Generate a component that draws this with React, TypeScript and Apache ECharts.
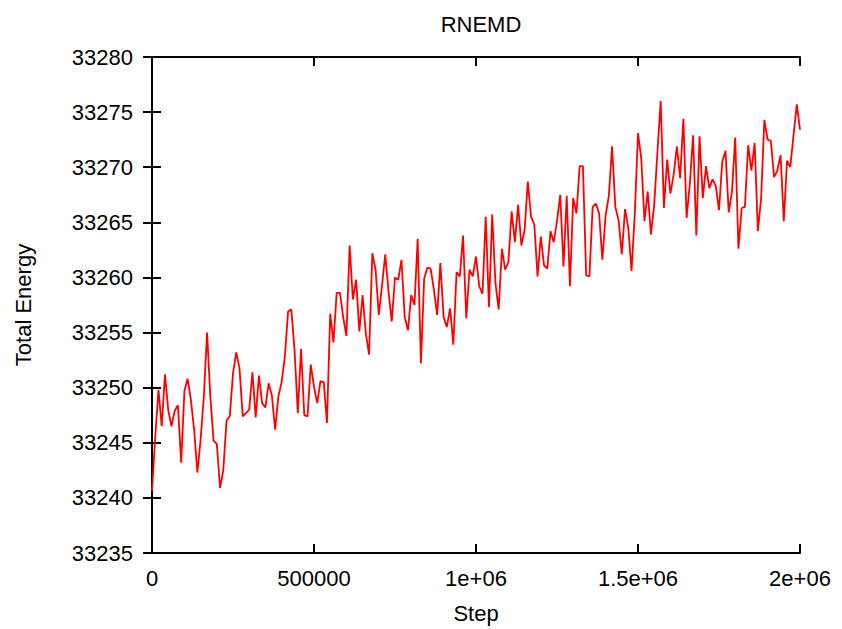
import React, { useEffect, useRef } from "react";
import * as echarts from "echarts";

const TITLE = "RNEMD";
const X_NAME = "Step";
const Y_NAME = "Total Energy";
const STEP_SIZE = 10000;
const X_TICK_LABELS: Record<number, string> = {
  0: "0",
  500000: "500000",
  1000000: "1e+06",
  1500000: "1.5e+06",
  2000000: "2e+06",
};

const ENERGY = [
  33240.6, 33245.5, 33249.8, 33246.5, 33251.2, 33248.0, 33246.5, 33247.9, 33248.4, 33243.2,
  33249.7, 33250.8, 33248.9, 33246.2, 33242.3, 33245.3, 33249.2, 33255.0, 33249.2, 33245.2,
  33244.9, 33240.9, 33242.5, 33247.0, 33247.4, 33251.3, 33253.2, 33251.8, 33247.4, 33247.7,
  33248.0, 33251.4, 33247.3, 33251.1, 33248.6, 33248.2, 33250.4, 33249.3, 33246.2, 33249.2,
  33250.5, 33252.8, 33256.9, 33257.1, 33253.4, 33247.7, 33253.5, 33247.5, 33247.4, 33252.1,
  33250.1, 33248.6, 33250.6, 33250.5, 33246.8, 33256.7, 33254.1, 33258.6, 33258.6, 33256.4,
  33254.7, 33262.9, 33258.0, 33259.8, 33255.1, 33258.4, 33254.9, 33253.0, 33262.2, 33260.7,
  33256.6, 33259.3, 33262.1, 33258.7, 33256.0, 33260.0, 33259.8, 33261.6, 33256.4, 33255.2,
  33258.4, 33257.5, 33263.5, 33252.2, 33259.9, 33260.9, 33260.8, 33258.9, 33256.6, 33261.3,
  33256.4, 33255.5, 33257.2, 33253.9, 33260.5, 33260.1, 33263.8, 33256.3, 33260.7, 33260.1,
  33261.9, 33259.2, 33258.5, 33265.5, 33257.3, 33265.7, 33259.5, 33257.1, 33262.6, 33260.7,
  33261.4, 33266.0, 33263.2, 33266.6, 33262.9, 33264.3, 33268.7, 33265.5, 33264.8, 33260.1,
  33263.7, 33261.1, 33260.8, 33264.2, 33263.2, 33265.1, 33267.5, 33261.0, 33267.4, 33259.2,
  33267.2, 33265.8, 33270.1, 33270.1, 33260.2, 33260.1, 33266.4, 33266.7, 33265.8, 33261.6,
  33265.6, 33267.4, 33271.9, 33266.4, 33265.2, 33262.1, 33266.2, 33264.5, 33260.6, 33265.7,
  33273.1, 33270.8, 33265.1, 33267.8, 33263.9, 33266.6, 33271.4, 33276.0, 33266.3, 33270.7,
  33267.6, 33269.3, 33271.9, 33269.0, 33274.4, 33265.4, 33268.5, 33272.9, 33263.8, 33272.8,
  33267.2, 33270.1, 33268.1, 33268.9, 33268.3, 33266.1, 33270.5, 33271.5, 33265.9, 33267.8,
  33272.7, 33262.6, 33266.3, 33266.4, 33272.0, 33269.7, 33272.2, 33264.2, 33267.2, 33274.3,
  33272.5, 33272.4, 33269.1, 33269.7, 33271.1, 33265.1, 33270.6, 33270.0, 33272.9, 33275.7,
  33273.4,
];

const FONT = "'Liberation Sans', Arial, Helvetica, sans-serif";
const FS = 22;

export default function App() {
  const ref = useRef<HTMLDivElement>(null);
  useEffect(() => {
    document.body.style.margin = "0";
    if (!ref.current) return;
    const chart = echarts.init(ref.current, null, { renderer: "svg" });
    const data = ENERGY.map((v, i) => [i * STEP_SIZE, v]);
    const axisLine = { show: true, lineStyle: { color: "#000", width: 2 } };
    const axisTick = { show: true, inside: true, length: 9, lineStyle: { color: "#000", width: 2 } };
    const text = { fontFamily: FONT, fontSize: FS, color: "#000" };
    chart.setOption({
      animation: false,
      backgroundColor: "#fff",
      title: {
        text: TITLE,
        left: 476,
        top: 8,
        textAlign: "center",
        textStyle: { ...text, fontWeight: "normal" },
      },
      grid: {
        left: 152,
        right: 42,
        top: 57,
        bottom: 76,
        containLabel: false,
        outerBoundsMode: "none",
      },
      xAxis: [
        {
          type: "value",
          min: 0,
          max: 2000000,
          interval: 500000,
          name: X_NAME,
          nameLocation: "middle",
          nameGap: 49,
          nameTextStyle: text,
          axisLine,
          axisTick,
          splitLine: { show: false },
          axisLabel: {
            ...text,
            margin: 14,
            formatter: (v: number) => X_TICK_LABELS[v] ?? String(v),
          },
        },
        {
          type: "value",
          position: "top",
          min: 0,
          max: 2000000,
          interval: 500000,
          axisLine,
          axisTick,
          splitLine: { show: false },
          axisLabel: { show: false },
        },
      ],
      yAxis: [
        {
          type: "value",
          min: 33235,
          max: 33280,
          interval: 5,
          name: Y_NAME,
          nameLocation: "middle",
          nameGap: 118,
          nameTextStyle: text,
          axisLine,
          axisTick,
          splitLine: { show: false },
          axisLabel: { ...text, margin: 19, formatter: (v: number) => String(v) },
        },
        {
          type: "value",
          position: "right",
          min: 33235,
          max: 33280,
          interval: 5,
          axisLine,
          axisTick,
          splitLine: { show: false },
          axisLabel: { show: false },
        },
      ],
      series: [
        {
          type: "line",
          data,
          showSymbol: false,
          symbol: "none",
          lineStyle: { color: "#ff0000", width: 1.8 },
          xAxisIndex: 0,
          yAxisIndex: 0,
        },
      ],
    });
    return () => chart.dispose();
  }, []);
  return <div ref={ref} style={{ width: 842, height: 629 }} />;
}
